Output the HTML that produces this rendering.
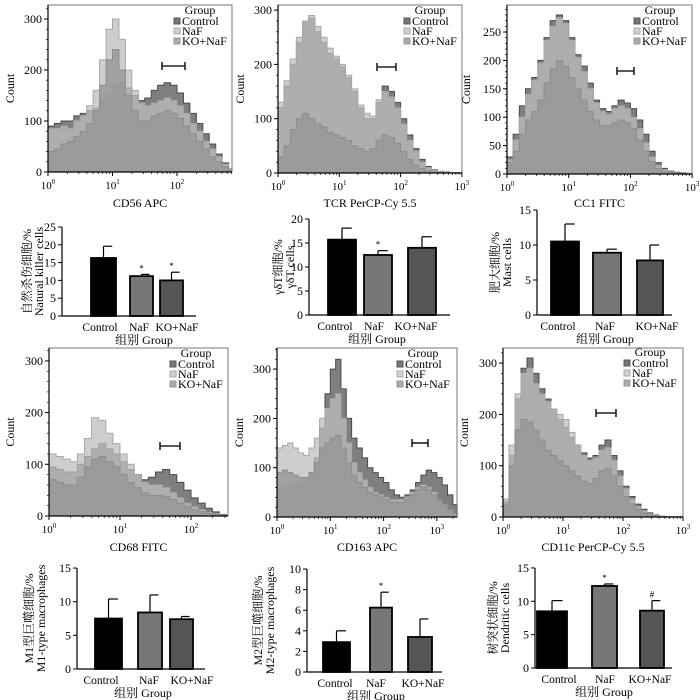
<!DOCTYPE html>
<html><head><meta charset="utf-8">
<style>
html,body{margin:0;padding:0;background:#fff;}
svg{display:block;font-family:"Liberation Serif","Noto Serif CJK SC",serif;}
</style></head>
<body>
<svg id="fig" width="700" height="700" viewBox="0 0 700 700"></svg>
<script>
// ---- Histogram data (counts sampled every 0.1 log10 decade from 10^0) ----
const h1Control=[90,95,100,100,110,115,120,125,140,150,170,175,165,150,140,145,160,170,175,170,155,135,115,95,75,55,35,18,6];
const h1NaF=[85,85,90,85,100,110,130,160,220,280,300,260,200,160,135,130,135,140,145,140,130,115,95,80,60,45,30,15,5];
const h1KO=[40,45,55,60,70,80,95,120,170,220,240,200,150,120,100,100,110,115,120,115,105,90,75,60,45,30,20,10,3];
const h2Control=[120,160,200,240,280,285,260,240,220,210,195,175,150,120,100,100,130,160,150,130,100,70,45,25,12,6,3,2,1,1,0];
const h2NaF=[130,170,210,250,280,290,270,250,230,215,200,180,155,125,110,105,135,150,140,120,90,60,40,20,10,5,3,2,1,1,0];
const h2KO=[30,50,80,100,110,100,90,85,75,70,65,60,50,45,40,45,60,70,65,55,40,25,15,8,4,2,1,1,0,0,0];
const h3Control=[30,70,120,150,170,200,240,270,280,270,240,210,190,160,130,115,110,120,130,125,115,95,70,40,20,10,5,3,2,1,0];
const h3NaF=[25,60,100,140,165,195,235,260,275,265,235,205,180,150,125,110,105,115,120,115,100,80,55,30,15,8,4,2,1,1,0];
const h3KO=[20,40,70,95,110,130,160,185,200,190,170,150,130,110,95,85,85,90,95,90,80,60,40,22,10,5,3,2,1,0,0];
const h4Control=[95,90,85,85,100,115,130,140,130,120,105,90,80,70,75,85,90,80,65,50,35,25,15,8,3,1];
const h4NaF=[120,115,110,105,120,150,190,185,160,140,120,100,80,65,60,60,55,45,35,25,18,12,7,4,2,1];
const h4KO=[70,65,60,60,75,95,110,115,105,95,80,65,55,45,40,40,38,32,25,18,12,8,5,3,1,0];
const h5Control=[55,60,60,65,70,75,90,120,180,250,300,320,260,200,160,140,120,100,90,80,70,55,45,40,45,55,70,85,95,90,80,65,45,25,10];
const h5NaF=[140,145,150,140,130,125,140,160,200,220,240,250,200,150,110,90,75,60,50,45,40,35,35,35,40,50,60,65,60,50,35,25,15,8,3];
const h5KO=[90,95,90,85,80,80,90,110,140,150,160,165,140,110,85,70,60,50,45,40,35,30,30,30,35,45,55,60,55,45,35,25,15,8,3];
const h6Control=[30,120,230,290,310,280,250,230,210,190,175,155,140,125,115,120,140,150,120,90,60,40,25,15,8,4,2,1,1,1,1];
const h6NaF=[35,140,240,280,290,260,240,225,210,200,190,165,140,120,110,115,130,135,110,80,55,35,20,12,6,3,2,1,1,1,1];
const h6KO=[25,100,170,190,185,170,150,130,120,110,100,90,80,70,65,75,90,95,80,60,40,25,15,8,4,2,1,1,0,0,0];

// ---- Bar chart data ----
const barCategories=["Control","NaF","KO+NaF"];
const b1Values=[16.3,11.2,10.0]; const b1Err=[19.6,11.7,12.3]; const b1Marks=["","*","*"];
const b2Values=[15.7,12.5,14.0]; const b2Err=[18.1,13.4,16.3]; const b2Marks=["","*",""];
const b3Values=[10.5,8.9,7.8]; const b3Err=[13.0,9.4,10.0]; const b3Marks=["","",""];
const b4Values=[7.5,8.4,7.4]; const b4Err=[10.4,11.0,7.8]; const b4Marks=["","",""];
const b5Values=[2.9,6.25,3.4]; const b5Err=[4.0,7.75,5.15]; const b5Marks=["","*",""];
const b6Values=[8.5,12.3,8.6]; const b6Err=[10.1,12.6,10.1]; const b6Marks=["","*","#"];
const b1Ticks=[0,5,10,15,20,25]; const b2Ticks=[0,5,10,15,20]; const b3Ticks=[0,5,10,15];
const b4Ticks=[0,5,10,15]; const b5Ticks=[0,2,4,6,8,10]; const b6Ticks=[0,5,10,15];

const NS="http://www.w3.org/2000/svg";
const svg=document.getElementById('fig');
function mk(tag,attrs,parent){const e=document.createElementNS(NS,tag);for(const k in attrs)e.setAttribute(k,attrs[k]);(parent||svg).appendChild(e);return e;}

function hist(cfg){
  const g=mk('g',{});
  
  
  const {L,R,T,B,y0,yPer,dec,xmaxLog}=cfg;
  const xs=v=>L+v*dec, ys=v=>y0-v*yPer;
  const series=[[cfg.c,'rgba(105,105,105,0.85)','#4a4a4a','series-control'],[cfg.n,'rgba(190,190,190,0.75)','#a8a8a8','series-naf'],[cfg.k,'rgba(150,150,150,0.8)','#8c8c8c','series-ko-naf']];
  series.forEach(([d,fill,stroke,nm])=>{
    let pts=[];
    d.forEach((v,i)=>{const xa=xs(Math.min(i*0.1,xmaxLog)),xb=xs(Math.min((i+1)*0.1,xmaxLog));pts.push(xa+','+ys(v));pts.push(xb+','+ys(v));});
    const poly=mk('polygon',{points:xs(0)+','+y0+' '+pts.join(' ')+' '+xs(Math.min(d.length*0.1,xmaxLog))+','+y0,fill:fill,stroke:stroke,'stroke-width':1},g);
    
    
  });
  mk('rect',{x:L,y:T,width:R-L,height:B-T,fill:'none',stroke:'#777','stroke-width':1},g);
  mk('line',{x1:L,y1:T,x2:L,y2:B,stroke:'#000','stroke-width':1.2},g);
  mk('line',{x1:L,y1:B,x2:R,y2:B,stroke:'#000','stroke-width':1.2},g);
  cfg.yticks.forEach(t=>{const y=ys(t);mk('line',{x1:L-4,y1:y,x2:L,y2:y,stroke:'#000'},g);
    const tx=mk('text',{x:L-6,y:y+4,'font-size':12,'text-anchor':'end'},g);tx.textContent=t;});
  for(let y=y0;y>T;y-=cfg.minor*yPer)mk('line',{x1:L-2,y1:y,x2:L,y2:y,stroke:'#000','stroke-width':0.7},g);
  for(let d=0;d<=Math.floor(xmaxLog);d++){const x=xs(d);mk('line',{x1:x,y1:B,x2:x,y2:B+4,stroke:'#000'},g);
    const tx=mk('text',{x:x,y:B+17,'font-size':11,'text-anchor':'middle'},g);tx.textContent='10';
    const sp=mk('tspan',{dy:-5,'font-size':7},tx);sp.textContent=d;
    for(let m=2;m<10;m++){const lx=d+Math.log10(m);if(lx<=xmaxLog)mk('line',{x1:xs(lx),y1:B,x2:xs(lx),y2:B+2,stroke:'#000','stroke-width':0.7},g);}}
  const xl=mk('text',{x:(L+R)/2,y:cfg.xlY,'font-size':12,'text-anchor':'middle'},g);xl.textContent=cfg.xlabel;
  
  const yl=mk('text',{x:cfg.ylX,y:(T+B)/2,'font-size':12,'text-anchor':'middle',transform:`rotate(-90 ${cfg.ylX} ${(T+B)/2})`},g);yl.textContent='Count';
  
  const gy=cfg.gate[2];mk('line',{x1:cfg.gate[0],y1:gy,x2:cfg.gate[1],y2:gy,stroke:'#222','stroke-width':1.6},g);
  mk('line',{x1:cfg.gate[0],y1:gy-4,x2:cfg.gate[0],y2:gy+4,stroke:'#222','stroke-width':1.6},g);
  mk('line',{x1:cfg.gate[1],y1:gy-4,x2:cfg.gate[1],y2:gy+4,stroke:'#222','stroke-width':1.6},g);
  const lg=mk('g',{},g);
  const lx=cfg.leg[0],ly=cfg.leg[1];
  const gt=mk('text',{x:lx+26,y:ly,'font-size':12,'text-anchor':'middle'},lg);gt.textContent='Group';
  [['Control','#777','#555'],['NaF','#d0d0d0','#aaa'],['KO+NaF','#aaa','#999']].forEach((e,i)=>{
    const y=ly+11+i*10;
    mk('rect',{x:lx,y:y-7,width:6,height:6,fill:e[1],stroke:e[2]},lg);
    const t=mk('text',{x:lx+8,y:y,'font-size':12},lg);t.textContent=e[0];
    
  });
}

function bars(cfg){
  const g=mk('g',{});
  
  
  const {ax,y0,per,xEnd}=cfg;const ys=v=>y0-v*per;
  const fills=['#000','#777','#555'];
  cfg.values.forEach((v,i)=>{
    const x1=cfg.bx[i][0],x2=cfg.bx[i][1],cx=(x1+x2)/2;
    const eb=mk('line',{x1:cx,y1:ys(v),x2:cx,y2:ys(cfg.err[i]),stroke:'#000','stroke-width':1.2},g);
    mk('line',{x1:cx,y1:ys(cfg.err[i]),x2:cx+(x2-x1)*0.35,y2:ys(cfg.err[i]),stroke:'#000','stroke-width':1.2},g);
    
    const r=mk('rect',{x:x1,y:ys(v),width:x2-x1,height:v*per,fill:fills[i],stroke:'#000','stroke-width':1.8},g);
    
    
    if(cfg.marks[i]){const s=mk('text',{x:cx,y:ys(cfg.err[i])-3,'font-size':9,'text-anchor':'middle'},g);s.textContent=cfg.marks[i];}
    const lab=mk('text',{x:cfg.lx[i],y:y0+15,'font-size':11.5,'text-anchor':'middle'},g);lab.textContent=barCategories[i];
    
  });
  mk('line',{x1:ax,y1:y0,x2:xEnd,y2:y0,stroke:'#000','stroke-width':1.2},g);
  const tmax=cfg.ticks[cfg.ticks.length-1];
  mk('line',{x1:ax,y1:y0,x2:ax,y2:ys(tmax),stroke:'#000','stroke-width':1.2},g);
  cfg.ticks.forEach(t=>{const y=ys(t);mk('line',{x1:ax-4,y1:y,x2:ax,y2:y,stroke:'#000'},g);
    const tx=mk('text',{x:ax-6,y:y+4,'font-size':12,'text-anchor':'end'},g);tx.textContent=t;});
  const gl=mk('text',{x:cfg.gx,y:y0+28,'font-size':12,'text-anchor':'middle'},g);gl.textContent='组别 Group';
  
  const cy=(y0+ys(tmax))/2;
  cfg.yl.forEach((s,i)=>{const x=cfg.ylX+i*12;const t=mk('text',{x:x,y:cy,'font-size':12,'text-anchor':'middle',transform:`rotate(-90 ${x} ${cy})`},g);t.textContent=s;
    });
}

hist({name:'cd56-histogram',L:48,R:232,T:5,B:172,y0:172,yPer:0.51,dec:64.5,xmaxLog:2.85,c:h1Control,n:h1NaF,k:h1KO,yticks:[0,100,200,300],minor:20,xlabel:'CD56 APC',xlY:207,ylX:14,gate:[162,185,66],leg:[174,14]});
hist({name:'tcr-histogram',L:278,R:462,T:5,B:173,y0:173,yPer:0.543,dec:61.3,xmaxLog:3,c:h2Control,n:h2NaF,k:h2KO,yticks:[0,100,200,300],minor:20,xlabel:'TCR PerCP-Cy 5.5',xlY:207,ylX:244,gate:[377,396,67],leg:[404,14]});
hist({name:'cc1-histogram',L:507,R:692,T:5,B:174,y0:174,yPer:0.568,dec:61.7,xmaxLog:3,c:h3Control,n:h3NaF,k:h3KO,yticks:[0,50,100,150,200,250],minor:10,xlabel:'CC1 FITC',xlY:207,ylX:470,gate:[617,634,71],leg:[634,14]});
hist({name:'cd68-histogram',L:49,R:228,T:348,B:516,y0:516,yPer:0.517,dec:71,xmaxLog:2.51,c:h4Control,n:h4NaF,k:h4KO,yticks:[0,100,200,300],minor:20,xlabel:'CD68 FITC',xlY:551,ylX:14,gate:[160,180,446],leg:[170,357]});
hist({name:'cd163-histogram',L:277,R:457,T:348,B:517,y0:517,yPer:0.493,dec:53.3,xmaxLog:3.38,c:h5Control,n:h5NaF,k:h5KO,yticks:[0,100,200,300],minor:20,xlabel:'CD163 APC',xlY:551,ylX:243,gate:[412,428,443],leg:[397,357]});
hist({name:'cd11c-histogram',L:503,R:683,T:348,B:517,y0:517,yPer:0.513,dec:60,xmaxLog:3,c:h6Control,n:h6NaF,k:h6KO,yticks:[0,100,200,300],minor:20,xlabel:'CD11c PerCP-Cy 5.5',xlY:551,ylX:468,gate:[596,616,413],leg:[624,356]});

bars({name:'nk-cells-bar-chart',ax:62,y0:316,per:3.56,xEnd:196,gx:144,lx:[100,139,177],values:b1Values,err:b1Err,marks:b1Marks,ticks:b1Ticks,bx:[[91,116],[130,153],[160,183]],yl:['自然杀伤细胞/%','Natural killer cells'],ylX:31});
bars({name:'gdt-cells-bar-chart',ax:309,y0:315,per:4.8,xEnd:450,gx:377,lx:[335,374,416],values:b2Values,err:b2Err,marks:b2Marks,ticks:b2Ticks,bx:[[328,356],[364,392],[408,436]],yl:['γδT细胞/%','γδT cells'],ylX:282});
bars({name:'mast-cells-bar-chart',ax:537,y0:315,per:7,xEnd:672,gx:605,lx:[558,605,657],values:b3Values,err:b3Err,marks:b3Marks,ticks:b3Ticks,bx:[[551,579],[593,621],[637,663]],yl:['肥大细胞/%','Mast cells'],ylX:499});
bars({name:'m1-macrophages-bar-chart',ax:77,y0:669,per:6.73,xEnd:205,gx:143,lx:[101,149,192],values:b4Values,err:b4Err,marks:b4Marks,ticks:b4Ticks,bx:[[95,122],[138,162],[170,193]],yl:['M1型巨噬细胞/%','M1-type macrophages'],ylX:33});
bars({name:'m2-macrophages-bar-chart',ax:307,y0:672,per:10.3,xEnd:442,gx:376,lx:[335,376,423],values:b5Values,err:b5Err,marks:b5Marks,ticks:b5Ticks,bx:[[323,350],[370,392],[408,432]],yl:['M2型巨噬细胞/%','M2-type macrophages'],ylX:262});
bars({name:'dendritic-cells-bar-chart',ax:535,y0:668,per:6.67,xEnd:672,gx:604,lx:[559,605,650],values:b6Values,err:b6Err,marks:b6Marks,ticks:b6Ticks,bx:[[537,567],[592,617],[640,664]],yl:['树突状细胞/%','Dendritic cells'],ylX:497});
</script>
</body></html>
